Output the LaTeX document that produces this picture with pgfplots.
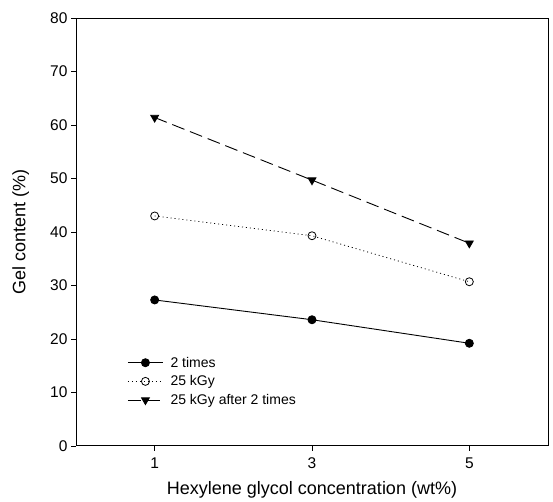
\documentclass[border=0pt]{standalone}
\usepackage{fontspec}
\setmainfont{Liberation Sans}
\usepackage{pgfplots}
\pgfplotsset{compat=1.18}

\begin{document}
\begin{tikzpicture}
\begin{axis}[
  scale only axis,
  width=472pt, height=428pt,
  xmin=0, xmax=6, ymin=0, ymax=80,
  xtick={1,3,5}, ytick={0,10,...,80},
  axis line style={line width=1pt},
  tick style={black, line width=0.8pt},
  tick align=outside,
  xtick pos=bottom, ytick pos=left,
  major tick length=5pt,
  /pgf/number format/assume math mode=true,
  tick label style={font=\fontsize{15.5}{18}\selectfont},
  xticklabel style={yshift=-3pt},
  label style={font=\fontsize{18}{21}\selectfont},
  xlabel={Hexylene glycol concentration (wt\%)},
  ylabel={Gel content (\%)},
  xlabel style={at={(axis description cs:0.5,-0.103)}, anchor=center},
  ylabel style={at={(axis description cs:-0.117,0.5)}, anchor=center},
  legend cell align=left,
  legend style={draw=none, fill=none, font=\fontsize{14}{16}\selectfont,
    at={(rel axis cs:0.102,0.218)}, anchor=north west,
    row sep=3pt,
    /tikz/every odd column/.append style={column sep=5pt}},
  legend image code/.code={
    \draw[mark repeat=2,mark phase=2] plot coordinates {(0cm,0cm) (0.62cm,0cm) (1.24cm,0cm)};},
]
\addplot[black, line width=0.9pt, mark=*, mark size=4pt] coordinates {
  (1,27.3) (3,23.6) (5,19.2)
};
\addlegendentry{2 times}
\addplot[black, line width=0.8pt, dash pattern=on 1pt off 3pt, mark=o,
  mark size=4pt, mark options={solid, fill=white, line width=0.8pt}] coordinates {
  (1,43.0) (3,39.3) (5,30.7)
};
\addlegendentry{25 kGy}
\addplot[black, line width=0.9pt, dash pattern=on 13pt off 6pt,
  mark=triangle*, mark size=4.5pt, mark options={solid, rotate=180}] coordinates {
  (1,61.4) (3,49.7) (5,37.9)
};
\addlegendentry{25 kGy after 2 times}
\end{axis}
\pgfresetboundingbox
\path (current axis.south west) ++(-76pt,-56pt) coordinate (bbA);
\path (current axis.north east) ++(5pt,18pt) coordinate (bbB);
\path[use as bounding box] (bbA) rectangle (bbB);
\end{tikzpicture}
\end{document}
